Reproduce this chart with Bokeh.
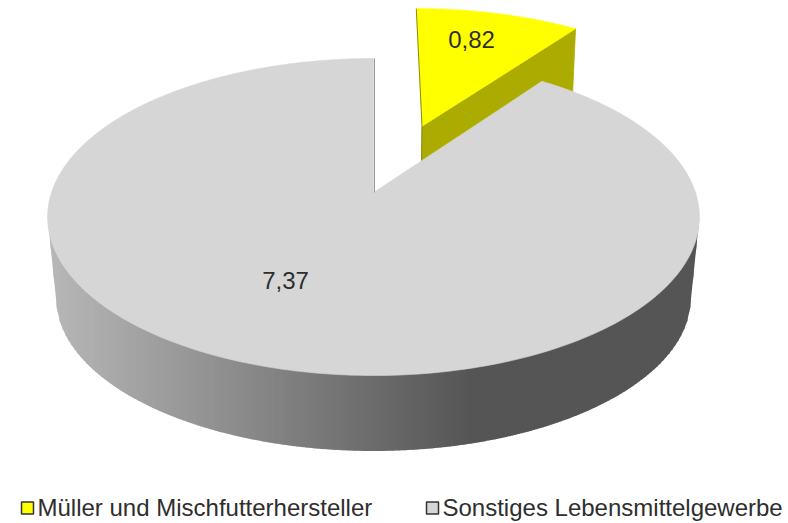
import numpy as np
from bokeh.plotting import figure
from bokeh.embed import file_html
from bokeh.resources import INLINE
from bokeh.core.properties import value

categories = ["Müller und Mischfutterhersteller", "Sonstiges Lebensmittelgewerbe"]
values = [0.82, 7.37]
top_colors = ["#ffff00", "#d6d6d6"]
wall_color = "#acac00"
FONT = "Liberation Sans"
TXT = "#2e2e2e"

# projection of the pie (screen pixels of the reference)
TOP = dict(cx=373.0, cy=192.0, rx=322.0, ry=154.7, k=0.1547)
BOT = dict(cx=373.0, cy=274.0, rx=314.0, ry=150.0, k=0.15)
EXPLODE = 0.49
Y_SHIFT = (3.0, 1.0)


def project(plane, u, v):
    s = 1.0 / (1.0 + plane["k"] * v)
    return plane["cx"] + plane["rx"] * u * s, plane["cy"] - plane["ry"] * v * s


def rim(theta):
    return np.sin(theta), np.cos(theta)


fractions = np.array(values) / sum(values)
yellow_end = 2 * np.pi * fractions[0]

p = figure(width=788, height=523, x_range=(0, 788), y_range=(523, 0),
           output_backend="svg", toolbar_location=None, min_border=0,
           background_fill_color="white", border_fill_color="white")
p.axis.visible = False
p.grid.visible = False
p.outline_line_color = None

# grey outer wall: vertical shaded bands between the two front outlines
t = np.linspace(np.radians(60), np.radians(300), 1500)
tx, ty = project(TOP, *rim(t))
il, ir = np.argmin(tx), np.argmax(tx)
front = t[(t >= t[ir]) & (t <= t[il])]
ftx, fty = project(TOP, *rim(front))
fbx, fby = project(BOT, *rim(front))
# rim runs right to left; reverse so x grows
upper_x, upper_y = ftx[::-1], fty[::-1]
lower_x = np.concatenate([[tx[il]], fbx[::-1], [tx[ir]]])
lower_y = np.concatenate([[ty[il]], fby[::-1], [ty[ir]]])
left, right = tx[il], tx[ir]
band_edges = np.concatenate([[left], np.arange(np.ceil(left) + 2, right - 1, 3.0), [right]])
xs, ys, cols = [], [], []
for a, b in zip(band_edges[:-1], band_edges[1:]):
    b2 = min(b + 1, right)
    ua, ub = np.interp([a, b2], upper_x, upper_y)
    la, lb = np.interp([a, b2], lower_x, lower_y)
    # tuck the upper edge under the top face, except at the silhouette ends
    ua -= min(3.0, (a - left) / 3.0, (right - a) / 3.0)
    ub -= min(3.0, (b2 - left) / 3.0, (right - b2) / 3.0)
    g = int(round(np.clip(176 - 0.233 * ((a + b) / 2 - 80), 85, 186)))
    xs.append([a, b2, b2, a])
    ys.append([ua, ub, lb, la])
    cols.append(f"#{g:02x}{g:02x}{g:02x}")
p.patches(xs, ys, fill_color=cols, line_color=None)


# exploded yellow slice
def shifted(plane, u, v):
    x, y = project(plane, u, v)
    return x + Y_SHIFT[0], y + Y_SHIFT[1]


mid = yellow_end / 2
u0, v0 = EXPLODE * np.sin(mid), EXPLODE * np.cos(mid)
ex, ey = rim(yellow_end)
wall = [shifted(TOP, u0, v0), shifted(TOP, u0 + ex, v0 + ey),
        shifted(BOT, u0 + ex, v0 + ey), shifted(BOT, u0, v0)]
p.patch([q[0] for q in wall], [q[1] for q in wall], fill_color=wall_color, line_color=wall_color, line_width=0.8)

th = np.linspace(0, yellow_end, 40)
yface = [shifted(TOP, u0, v0)] + [shifted(TOP, u0 + np.sin(a), v0 + np.cos(a)) for a in th]
p.patch([q[0] for q in yface], [q[1] for q in yface], fill_color=top_colors[0], line_color=top_colors[0], line_width=0.6)
yleft = [shifted(TOP, u0, v0 + 1), shifted(TOP, u0, v0), shifted(BOT, u0, v0)]
p.line([q[0] for q in yleft], [q[1] for q in yleft], line_color="#8a8a20", line_width=1)

# grey top face
th = np.linspace(yellow_end, 2 * np.pi, 300)
gface = [project(TOP, 0, 0)] + [project(TOP, np.sin(a), np.cos(a)) for a in th]
p.patch([q[0] for q in gface], [q[1] for q in gface], fill_color=top_colors[1], line_color=top_colors[1], line_width=0.6)
gedge = [project(TOP, 0, 0), project(TOP, 0, 1)]
p.line([q[0] + 1 for q in gedge], [q[1] for q in gedge], line_color="#9a9a9a", line_width=1)

# value labels
labels = [f"{v:.2f}".replace(".", ",") for v in values]
p.text([471, 285], [39, 280], text=labels, text_font=value(FONT), text_font_size="24px",
       text_color=TXT, text_align="center", text_baseline="middle")

# legend
p.rect([27, 432], [507.5, 507.5], width=12, height=12, fill_color=top_colors, line_color="#333333", line_width=1.5)
p.text([37, 442], [507, 507], text=categories, text_font=value(FONT), text_font_size="24px",
       text_color=TXT, text_align="left", text_baseline="middle")

open("out.html", "w").write(file_html(p, INLINE))
